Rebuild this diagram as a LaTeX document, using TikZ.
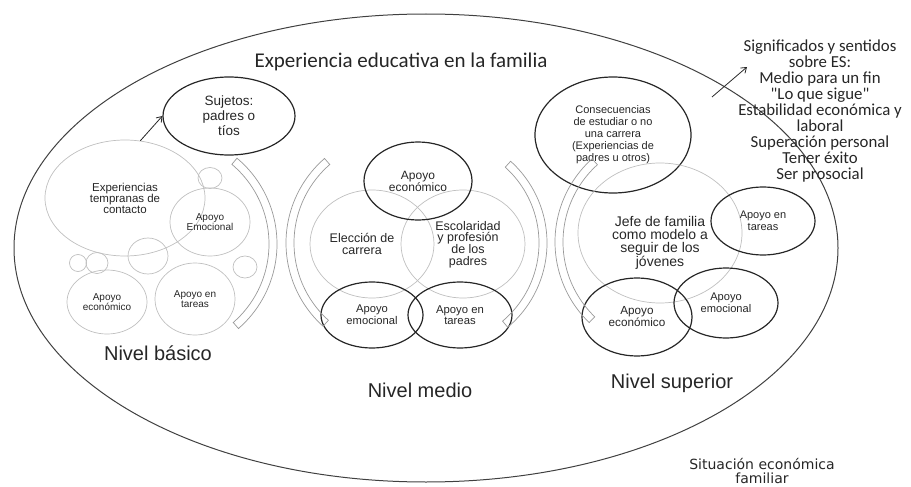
\documentclass[tikz,border=0pt]{standalone}
\usepackage{fontspec}
\setmainfont{Liberation Sans}
\newfontfamily\calib{Carlito}
\newfontfamily\dejav{DejaVu Sans}
\usetikzlibrary{shapes.geometric,arrows.meta,calc}
\tikzset{
 dark/.style={draw=black!85, line width=1.2pt, ellipse, inner sep=0pt, text=black!85, align=center},
 light/.style={draw=black!25, line width=0.7pt, ellipse, inner sep=0pt, text=black!85, align=center},
 band/.style={draw=black!40, line width=0.7pt},
 lbl/.style={text=black!85, align=center, inner sep=0pt},
 big/.style={draw=black!75, line width=1pt, ellipse, inner sep=0pt},
 arr/.style={draw=black!85, line width=0.8pt, -{Straight Barb[length=5pt,width=7pt]}},
}
\newcommand{\fs}[2]{\fontsize{#1}{#2}\selectfont}
\newcommand{\bandshape}[5]{%
 \draw[band] ($(#1)+(#2:#4)$) arc[start angle=#2,end angle=#3,radius=#4]
   -- ($(#1)+(#3:#5)$) arc[start angle=#3,end angle=#2,radius=#5] -- cycle;}
\begin{document}
\begin{tikzpicture}[x=1pt,y=-1pt]
\path[use as bounding box] (0,0) rectangle (911,487);

% outer ellipse
\node[big, minimum width=824pt, minimum height=468pt] (outer) at (426,248) {};

% titles
\node[lbl, font=\calib\fs{21}{24}] (title) at (401,62) {Experiencia educativa en la familia};
\node[lbl, font=\calib\fs{16.8}{16}] (signif) at (820,111) {Significados y sentidos\\sobre ES:\\Medio para un fin\\"Lo que sigue"\\Estabilidad económica y\\laboral\\Superación personal\\Tener éxito\\Ser prosocial};
\coordinate (sa) at (712,97);
\coordinate (sb) at (747,67);
\draw[arr] (sa) -- (sb);
\node[lbl, font=\dejav\fs{14}{14.5}] (situ) at (762,471) {Situación económica\\familiar};

% ---- Nivel basico
\node[dark, minimum width=132pt, minimum height=78pt, font=\fs{13.5}{15}] (suj) at (229,116) {Sujetos:\\padres o\\tíos};
\node[light, minimum width=160pt, minimum height=116pt, font=\fs{11.5}{10.5}] (exp) at (125,198) {Experiencias\\tempranas de\\contacto};
\node[light, minimum width=24pt, minimum height=21pt] (c1) at (210,178) {};
\node[light, minimum width=80pt, minimum height=68pt, font=\fs{10}{9.5}] (emo1) at (210,222) {Apoyo\\Emocional};
\node[light, minimum width=40pt, minimum height=36pt] (c2) at (148,256) {};
\node[light, minimum width=17pt, minimum height=17pt] (c3) at (78,263) {};
\node[light, minimum width=22pt, minimum height=21pt] (c4) at (97,263) {};
\node[light, minimum width=24pt, minimum height=22pt] (c5) at (245,267) {};
\node[light, minimum width=80pt, minimum height=64pt, font=\fs{10}{9.5}] (eco1) at (107,302) {Apoyo\\económico};
\node[light, minimum width=80pt, minimum height=72pt, font=\fs{10}{9.5}] (tar1) at (195,299) {Apoyo en\\tareas};
\draw[arr] (exp.75) -- (suj.west);
\coordinate (b1) at (165,244);
\bandshape{b1}{-50}{49}{112}{104}
\node[lbl, font=\fs{20}{24}] (nb) at (158,353) {Nivel básico};

% ---- Nivel medio
\node[light, minimum width=124pt, minimum height=108pt] (elec) at (372,244) {};
\node[lbl, font=\fs{12.5}{11.7}] (electxt) at (362,244) {Elección de\\carrera};
\node[light, minimum width=124pt, minimum height=108pt] (esc) at (463,244) {};
\node[lbl, font=\fs{12.5}{11.7}] (esctxt) at (468,244.5) {Escolaridad\\y profesión\\de los\\padres};
\node[dark, minimum width=108pt, minimum height=78pt, font=\fs{12}{12}] (eco2) at (418,181) {Apoyo\\económico};
\node[dark, minimum width=102pt, minimum height=66pt, font=\fs{11.2}{12}] (emo2) at (372,315) {Apoyo\\emocional};
\node[dark, minimum width=104pt, minimum height=66pt, font=\fs{11.3}{11}] (tar2) at (460,315) {Apoyo en\\tareas};
\coordinate (b2) at (398,243);
\bandshape{b2}{132}{229}{112}{104}
\coordinate (b3) at (437,243);
\bandshape{b3}{-48}{50}{110}{102}
\node[lbl, font=\fs{20}{24}] (nm) at (420,390) {Nivel medio};

% ---- Nivel superior
\node[dark, minimum width=156pt, minimum height=116pt, font=\fs{11}{12}] (cons) at (613,135) {Consecuencias\\de estudiar o no\\una carrera\\(Experiencias de\\padres u otros)};
\node[light, minimum width=164pt, minimum height=140pt] (jefe) at (660,233) {};
\node[lbl, font=\fs{14}{13}] (jefetxt) at (660,243) {Jefe de familia\\como modelo a\\seguir de los\\jóvenes};
\node[dark, minimum width=104pt, minimum height=68pt, font=\fs{11}{12.5}] (tar3) at (763,221) {Apoyo en\\tareas};
\node[dark, minimum width=110pt, minimum height=78pt, font=\fs{11.7}{11}] (eco3) at (637,317) {Apoyo\\económico};
\node[dark, minimum width=104pt, minimum height=70pt, font=\fs{11.1}{12}] (emo3) at (726,303) {Apoyo\\emocional};
\coordinate (b4) at (667,242);
\bandshape{b4}{134}{228}{112}{104}
\node[lbl, font=\fs{20}{24}] (ns) at (672,383) {Nivel superior};
\end{tikzpicture}
\end{document}
